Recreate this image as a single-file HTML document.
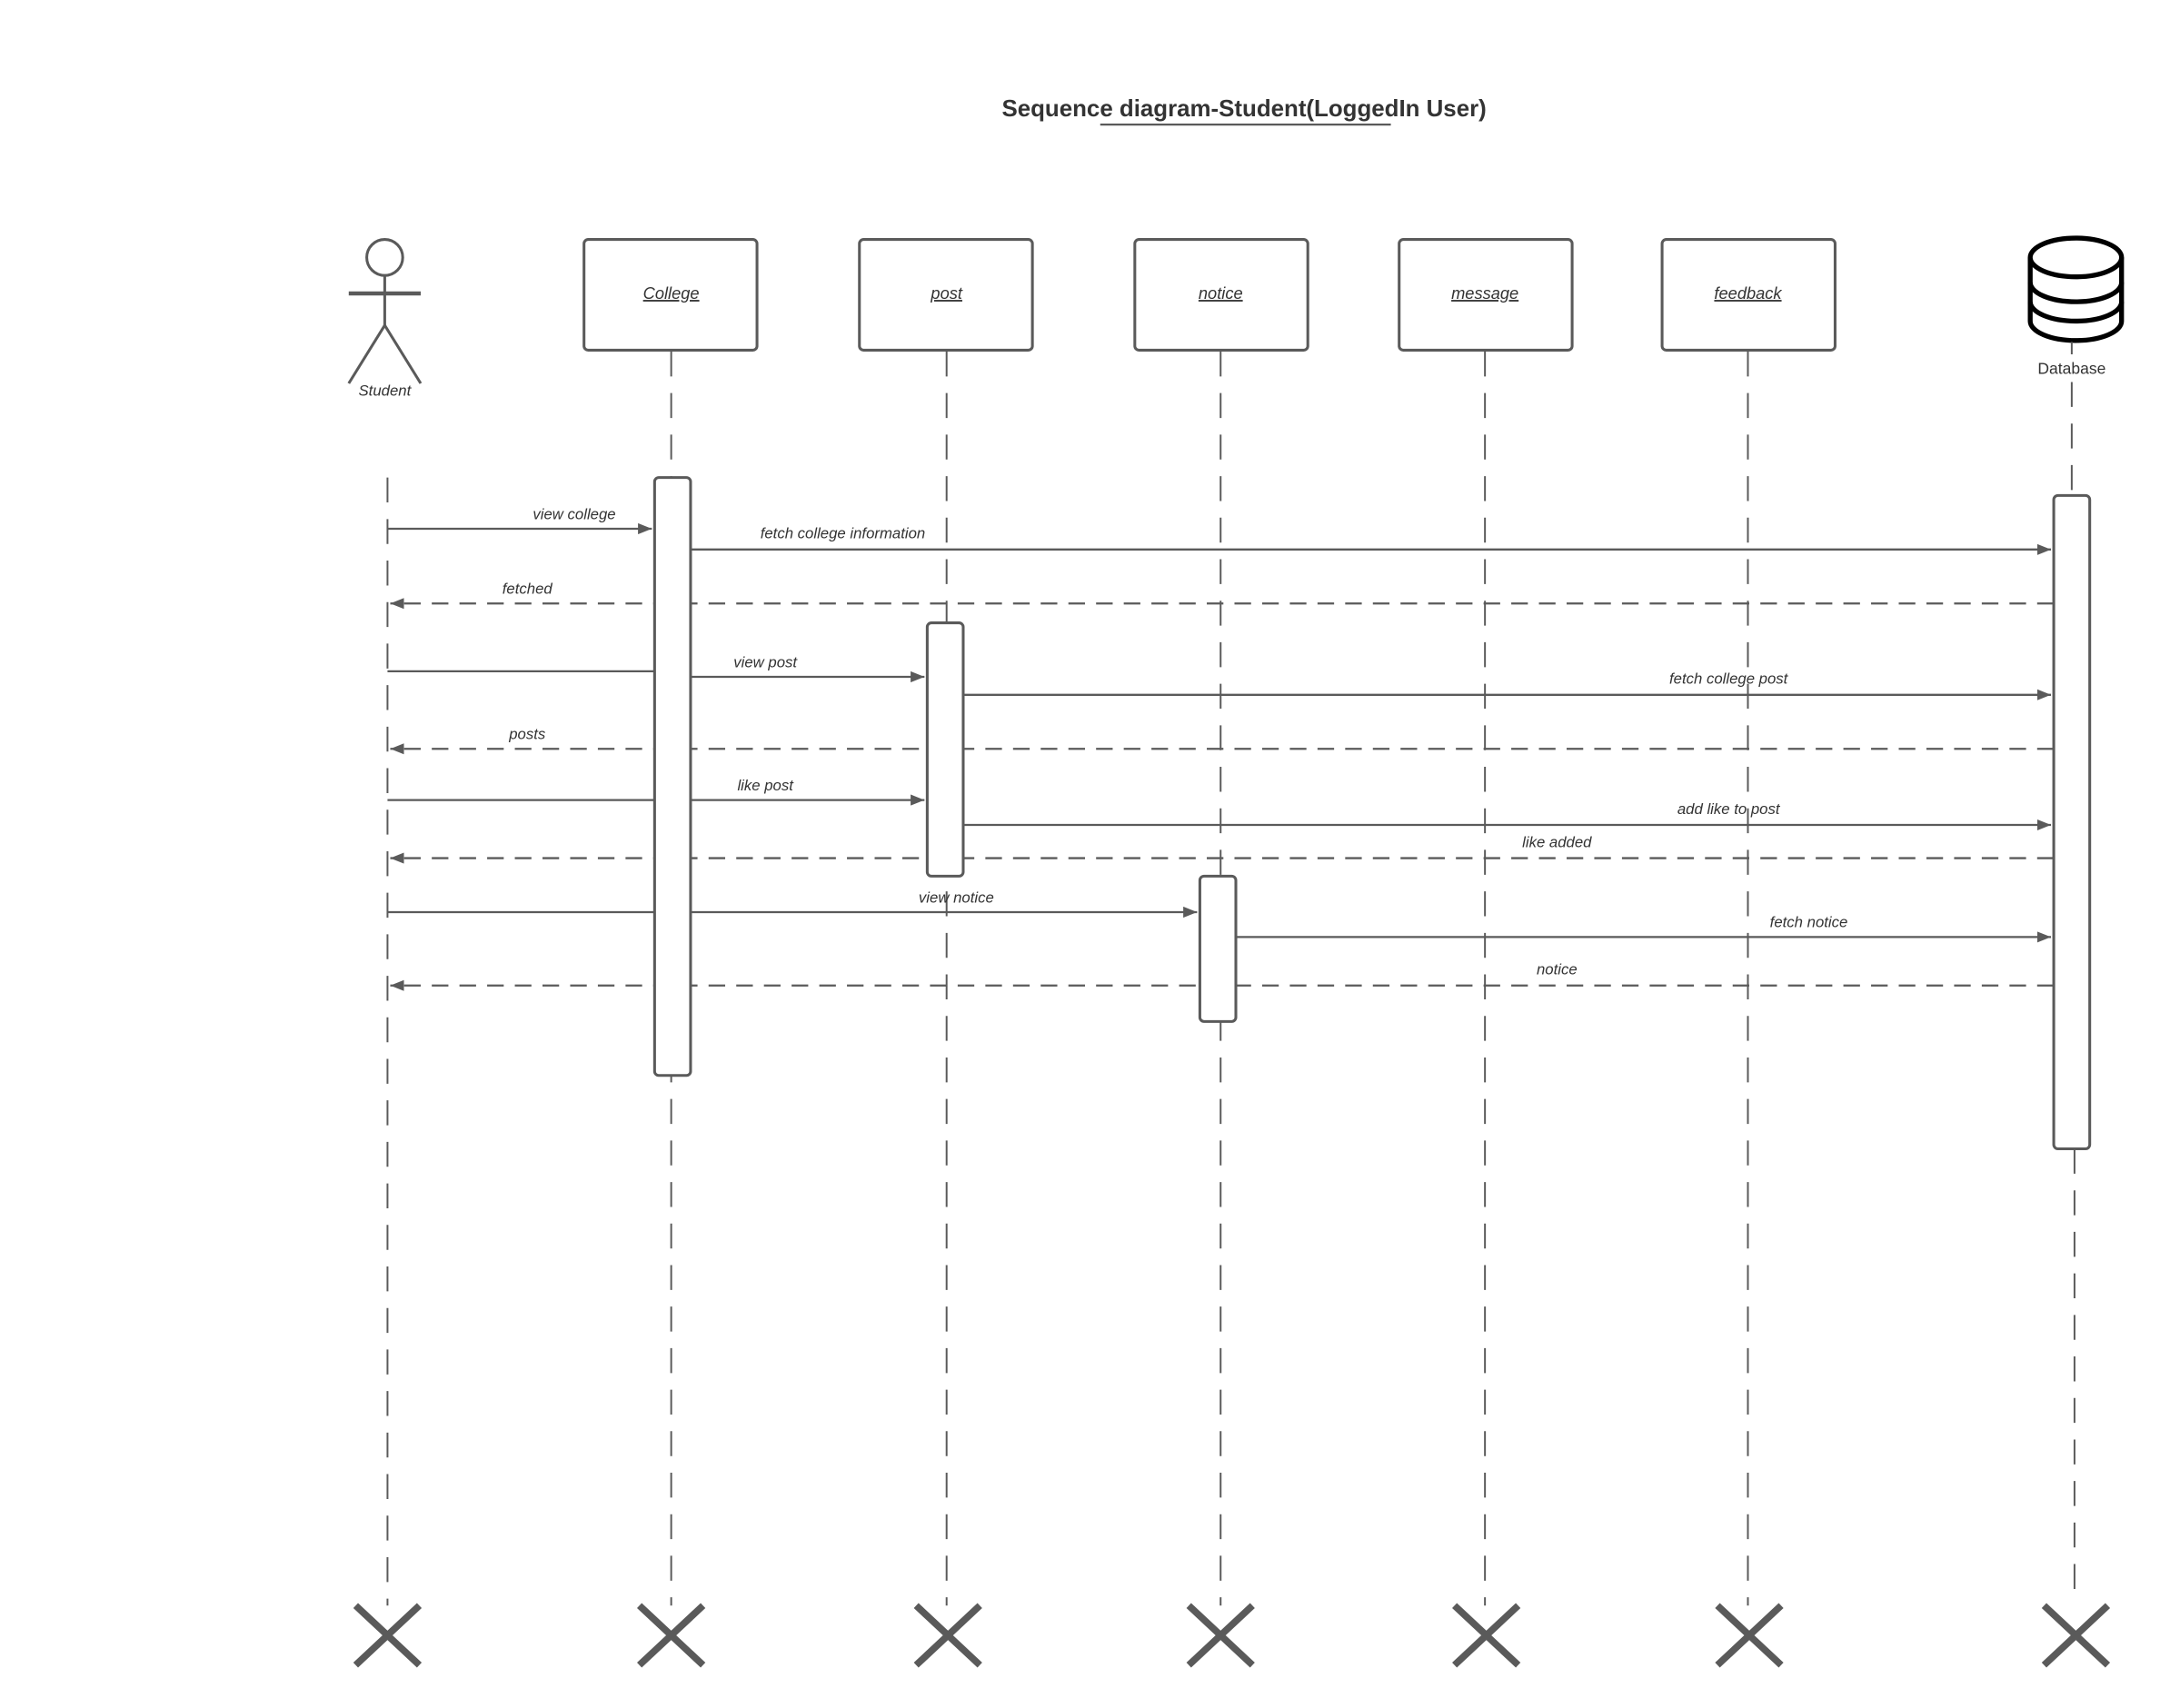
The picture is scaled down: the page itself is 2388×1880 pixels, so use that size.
<!DOCTYPE html>
<html><head><meta charset="utf-8"><style>html,body{margin:0;padding:0;background:#fff}svg{display:block}</style></head>
<body>
<svg width="2388" height="1880" viewBox="0 0 1568 1234" preserveAspectRatio="none" xmlns="http://www.w3.org/2000/svg" font-family="Liberation Sans, sans-serif">
<defs>
<marker id="a" markerWidth="10" markerHeight="8" refX="10" refY="4" orient="auto" markerUnits="userSpaceOnUse"><path d="M0,0 L10,4 L0,8 z" fill="#5a5a5a"/></marker>
</defs>
<rect width="1568" height="1234" fill="#fff"/>
<text x="899" y="84" text-anchor="middle" font-size="17" font-weight="bold" fill="#333">Sequence diagram-Student(LoggedIn User)</text>
<line x1="795" y1="90" x2="1005" y2="90" stroke="#5a5a5a" stroke-width="1.5"/>

<g stroke="#5a5a5a" stroke-width="1.3" stroke-dasharray="18,12" fill="none">
<line x1="280" y1="345" x2="280" y2="1160"/>
<line x1="485" y1="254" x2="485" y2="1160"/>
<line x1="684" y1="254" x2="684" y2="1160"/>
<line x1="882" y1="254" x2="882" y2="1160"/>
<line x1="1073" y1="254" x2="1073" y2="1160"/>
<line x1="1263" y1="254" x2="1263" y2="1160"/>
<line x1="1497" y1="276" x2="1497" y2="358"/>
<line x1="1499" y1="830" x2="1499" y2="1160"/>
</g>

<g stroke="#5a5a5a" stroke-width="2" fill="none">
<circle cx="278" cy="186" r="13" fill="#fff"/>
<line x1="278" y1="199" x2="278" y2="235"/>
<line x1="252" y1="212" x2="304" y2="212" stroke-width="3"/>
<line x1="278" y1="235" x2="252" y2="277"/>
<line x1="278" y1="235" x2="304" y2="277"/>
</g>
<text x="278" y="286" text-anchor="middle" font-size="11" font-style="italic" fill="#333">Student</text>

<g stroke="#5a5a5a" stroke-width="2" fill="#fff">
<rect x="422" y="173" width="125" height="80" rx="3"/>
<rect x="621" y="173" width="125" height="80" rx="3"/>
<rect x="820" y="173" width="125" height="80" rx="3"/>
<rect x="1011" y="173" width="125" height="80" rx="3"/>
<rect x="1201" y="173" width="125" height="80" rx="3"/>
</g>
<g font-size="12" font-style="italic" fill="#333" text-anchor="middle" text-decoration="underline">
<text x="485" y="216">College</text>
<text x="684" y="216">post</text>
<text x="882" y="216">notice</text>
<text x="1073" y="216">message</text>
<text x="1263" y="216">feedback</text>
</g>

<g stroke="#000" stroke-width="3.5" fill="#fff">
<path d="M1467,186 L1467,232 A33,14 0 0 0 1533,232 L1533,186"/>
<ellipse cx="1500" cy="186" rx="33" ry="14"/>
<path d="M1467,204 A33,14 0 0 0 1533,204" fill="none"/>
<path d="M1467,218 A33,14 0 0 0 1533,218" fill="none"/>
</g>
<line x1="1497" y1="247" x2="1497" y2="256" stroke="#5a5a5a" stroke-width="1.3"/>
<text x="1497" y="270" text-anchor="middle" font-size="11.5" fill="#333">Database</text>

<g stroke="#5a5a5a" stroke-width="1.5" fill="none">
<line x1="280" y1="382" x2="471" y2="382" marker-end="url(#a)"/>
<line x1="499" y1="397" x2="1482" y2="397" marker-end="url(#a)"/>
<line x1="1484" y1="436" x2="282" y2="436" stroke-dasharray="12,8" marker-end="url(#a)"/>
<line x1="280" y1="485" x2="473" y2="485"/>
<line x1="499" y1="489" x2="668" y2="489" marker-end="url(#a)"/>
<line x1="696" y1="502" x2="1482" y2="502" marker-end="url(#a)"/>
<line x1="1484" y1="541" x2="282" y2="541" stroke-dasharray="12,8" marker-end="url(#a)"/>
<line x1="280" y1="578" x2="473" y2="578"/>
<line x1="499" y1="578" x2="668" y2="578" marker-end="url(#a)"/>
<line x1="696" y1="596" x2="1482" y2="596" marker-end="url(#a)"/>
<line x1="1484" y1="620" x2="282" y2="620" stroke-dasharray="12,8" marker-end="url(#a)"/>
<line x1="280" y1="659" x2="865" y2="659" marker-end="url(#a)"/>
<line x1="893" y1="677" x2="1482" y2="677" marker-end="url(#a)"/>
<line x1="1484" y1="712" x2="282" y2="712" stroke-dasharray="12,8" marker-end="url(#a)"/>
</g>

<g stroke="#5a5a5a" stroke-width="2" fill="#fff">
<rect x="473" y="345" width="26" height="432" rx="3"/>
<rect x="670" y="450" width="26" height="183" rx="3"/>
<rect x="867" y="633" width="26" height="105" rx="3"/>
<rect x="1484" y="358" width="26" height="472" rx="3"/>
</g>

<g font-size="11" font-style="italic" fill="#333" text-anchor="middle">
<text x="415" y="375">view college</text>
<text x="609" y="389">fetch college information</text>
<text x="381" y="429">fetched</text>
<text x="553" y="482">view post</text>
<text x="1249" y="494">fetch college post</text>
<text x="381" y="534">posts</text>
<text x="553" y="571">like post</text>
<text x="1249" y="588">add like to post</text>
<text x="1125" y="612">like added</text>
<text x="691" y="652">view notice</text>
<text x="1307" y="670">fetch notice</text>
<text x="1125" y="704">notice</text>
</g>

<g stroke="#5a5a5a" stroke-width="5">
<path d="M257,1160 L303,1203 M303,1160 L257,1203"/>
<path d="M462,1160 L508,1203 M508,1160 L462,1203"/>
<path d="M662,1160 L708,1203 M708,1160 L662,1203"/>
<path d="M859,1160 L905,1203 M905,1160 L859,1203"/>
<path d="M1051,1160 L1097,1203 M1097,1160 L1051,1203"/>
<path d="M1241,1160 L1287,1203 M1287,1160 L1241,1203"/>
<path d="M1477,1160 L1523,1203 M1523,1160 L1477,1203"/>
</g>
</svg>
</body></html>
